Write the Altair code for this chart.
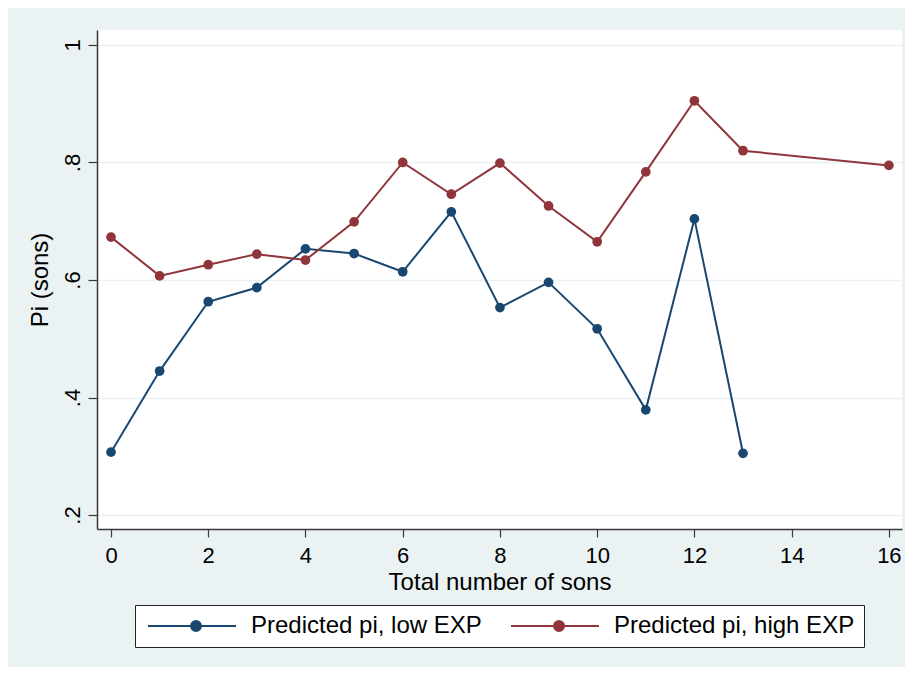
import altair as alt
import pandas as pd

# Data
low_x = [0, 1, 2, 3, 4, 5, 6, 7, 8, 9, 10, 11, 12, 13]
low_pi = [0.307, 0.445, 0.563, 0.587, 0.653, 0.645, 0.614, 0.716, 0.553, 0.596, 0.517, 0.379, 0.704, 0.305]
high_x = [0, 1, 2, 3, 4, 5, 6, 7, 8, 9, 10, 11, 12, 13, 16]
high_pi = [0.673, 0.607, 0.626, 0.644, 0.634, 0.699, 0.800, 0.746, 0.799, 0.726, 0.665, 0.784, 0.905, 0.820, 0.795]
series_names = ["Predicted pi, low EXP", "Predicted pi, high EXP"]
series_colors = ["#1a476f", "#90353b"]
x_ticks = [0, 2, 4, 6, 8, 10, 12, 14, 16]
y_ticks = [0.2, 0.4, 0.6, 0.8, 1.0]

df = pd.concat([
    pd.DataFrame({"sons": low_x, "pi": low_pi, "series": series_names[0]}),
    pd.DataFrame({"sons": high_x, "pi": high_pi, "series": series_names[1]}),
])

FONT = "Liberation Sans"
AXCOL = "#3a3a3a"
BG = "#eaf2f3"
TICK_FS = 22
TEXT_FS = 24

legend_path = "M-4,0H40M22.5,0A2.5,2.5,0,1,1,17.5,0A2.5,2.5,0,1,1,22.5,0Z"

color = alt.Color(
    "series:N",
    scale=alt.Scale(domain=series_names, range=series_colors),
    legend=alt.Legend(
        title=None,
        orient="none",
        legendX=38,
        legendY=575,
        direction="horizontal",
        fillColor="white",
        strokeColor="#222222",
        padding=9,
        labelFont=FONT,
        labelFontSize=TEXT_FS,
        labelColor="black",
        labelOffset=83,
        labelLimit=400,
        columnPadding=25,
        symbolType=legend_path,
        symbolSize=16,
        symbolStrokeWidth=2,
    ),
)

x = alt.X(
    "sons:Q",
    scale=alt.Scale(domain=[-0.288, 16.27], nice=False, zero=False),
    axis=alt.Axis(
        title="Total number of sons",
        values=x_ticks,
        grid=False,
        tickSize=8,
        tickColor=AXCOL,
        tickWidth=1.2,
        domainColor=AXCOL,
        domainWidth=1.5,
        labelFont=FONT,
        labelFontSize=TICK_FS,
        labelColor="black",
        labelPadding=8,
        labelFlush=False,
        titleFont=FONT,
        titleFontSize=TEXT_FS,
        titleFontWeight="normal",
        titleColor="black",
        titlePadding=4,
    ),
)

y = alt.Y(
    "pi:Q",
    scale=alt.Scale(domain=[0.1762, 1.0255], nice=False, zero=False),
    axis=alt.Axis(
        title="Pi (sons)",
        values=y_ticks,
        labelExpr="datum.value >= 1 ? '1' : replace(format(datum.value, '.1f'), '0.', '.')",
        grid=True,
        gridColor=BG,
        gridWidth=1.5,
        tickSize=9,
        tickColor=AXCOL,
        tickWidth=1.2,
        domainColor=AXCOL,
        domainWidth=1.5,
        labelFont=FONT,
        labelFontSize=TICK_FS,
        labelColor="black",
        labelAngle=-90,
        labelAlign="center",
        labelBaseline="bottom",
        labelPadding=4,
        labelFlush=False,
        titleFont=FONT,
        titleFontSize=TEXT_FS,
        titleFontWeight="normal",
        titleColor="black",
        titlePadding=9,
    ),
)

base = alt.Chart(df)
points = base.mark_point(filled=True, opacity=1, size=95).encode(x=x, y=y, color=color)
lines = base.mark_line(strokeWidth=2).encode(x=x, y=y, color=color, detail="series:N")

chart = (
    alt.layer(points, lines)
    .properties(
        width=805,
        height=499,
        autosize=alt.AutoSizeParams(type="none"),
        padding={"left": 89, "top": 22, "right": 3, "bottom": 138},
        background=BG,
    )
    .configure_view(fill="white", stroke=None)
)

chart.save("out.html", embed_options={"renderer": "svg", "actions": False})
